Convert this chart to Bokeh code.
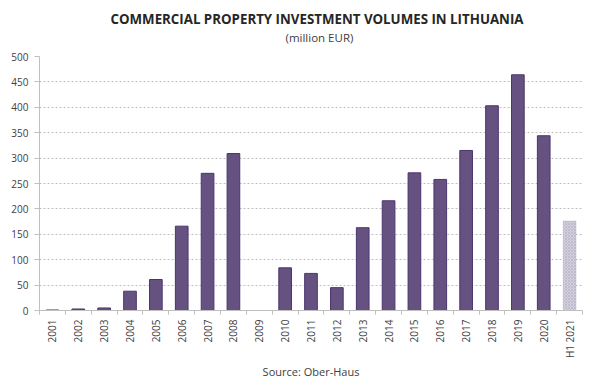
from bokeh.plotting import figure
from bokeh.models import Range1d, FixedTicker, Title, ColumnDataSource
from bokeh.embed import file_html
from bokeh.resources import INLINE

labels = ["2001", "2002", "2003", "2004", "2005", "2006", "2007", "2008", "2009", "2010",
          "2011", "2012", "2013", "2014", "2015", "2016", "2017", "2018", "2019", "2020", "H1 2021"]
values = [1, 3, 5, 38, 61, 166, 270, 309, 0, 84,
          73, 45, 163, 216, 271, 258, 315, 403, 464, 344, 176]
y_ticks = [0, 50, 100, 150, 200, 250, 300, 350, 400, 450, 500]

title_text = "COMMERCIAL PROPERTY INVESTMENT VOLUMES IN LITHUANIA"
subtitle_text = "(million EUR)"
source_text = "Source: Ober-Haus"

n = len(labels)
centers = [i + 0.5 for i in range(n)]
bounds = [float(i) for i in range(n + 1)]

full = ColumnDataSource(dict(x=centers[:-1], top=values[:-1]))
part = ColumnDataSource(dict(x=centers[-1:], top=values[-1:]))

p = figure(frame_width=543, frame_height=254, output_backend="svg", toolbar_location=None,
           x_range=Range1d(0, n), y_range=Range1d(0, 500), title=None,
           min_border_left=0, min_border_right=8, min_border_top=0, min_border_bottom=0)
p.outline_line_color = None
p.background_fill_color = "white"
p.border_fill_color = "white"

p.vbar(x="x", top="top", width=0.49, source=full, fill_color="#655281",
       line_color="#4b3570", line_width=1)
p.vbar(x="x", top="top", width=0.49, source=part, fill_color="#d3cfdc",
       line_color="#b7b0c8", line_width=1, line_dash="1 1",
       hatch_pattern="diagonal_cross", hatch_color="#b4acc5", hatch_scale=3, hatch_weight=0.6)

# x axis: labels at centers, ticks at category boundaries
xa = p.xaxis[0]
xa.ticker = FixedTicker(ticks=centers, minor_ticks=bounds)
xa.major_label_overrides = {c: l for c, l in zip(centers, labels)}
xa.major_label_orientation = 1.5707963
xa.major_tick_line_color = None
xa.major_tick_in = 0
xa.major_tick_out = 0
xa.minor_tick_line_color = "#bfbfbf"
xa.minor_tick_in = 0
xa.minor_tick_out = 4
xa.axis_line_color = "#bfbfbf"
xa.major_label_text_font = "Open Sans"
xa.major_label_text_font_size = "10px"
xa.major_label_text_color = "#404040"
xa.major_label_standoff = 5

ya = p.yaxis[0]
ya.ticker = FixedTicker(ticks=y_ticks)
ya.minor_tick_line_color = None
ya.major_tick_line_color = "#bfbfbf"
ya.major_tick_in = 0
ya.major_tick_out = 5
ya.axis_line_color = "#bfbfbf"
ya.major_label_text_font = "Open Sans"
ya.major_label_text_font_size = "10px"
ya.major_label_text_color = "#404040"
ya.major_label_standoff = 6

p.xgrid.grid_line_color = None
p.ygrid.grid_line_color = "#bfbfbf"
p.ygrid.grid_line_dash = "2 2"
p.ygrid.grid_line_width = 1

# blank spacers around the plot area (margins)
p.add_layout(Title(text=" ", text_font_size="1px", standoff=4.6), "left")
p.add_layout(Title(text=" ", text_font_size="1px", standoff=9), "above")
p.add_layout(Title(text=subtitle_text, align="left", offset=246, text_font="Open Sans",
                   text_font_size="11.5px", text_font_style="normal", text_color="#404040",
                   standoff=0), "above")
p.add_layout(Title(text=title_text, align="left", offset=71, text_font="Open Sans",
                   text_font_size="13.3px", text_font_style="bold", text_color="#262626",
                   standoff=0), "above")
p.add_layout(Title(text=" ", text_font_size="1px", standoff=3.6), "above")
p.add_layout(Title(text=source_text, align="center", text_font="Open Sans",
                   text_font_size="11px", text_font_style="normal", text_color="#404040",
                   standoff=0), "below")

open("out.html", "w").write(file_html(p, INLINE))
